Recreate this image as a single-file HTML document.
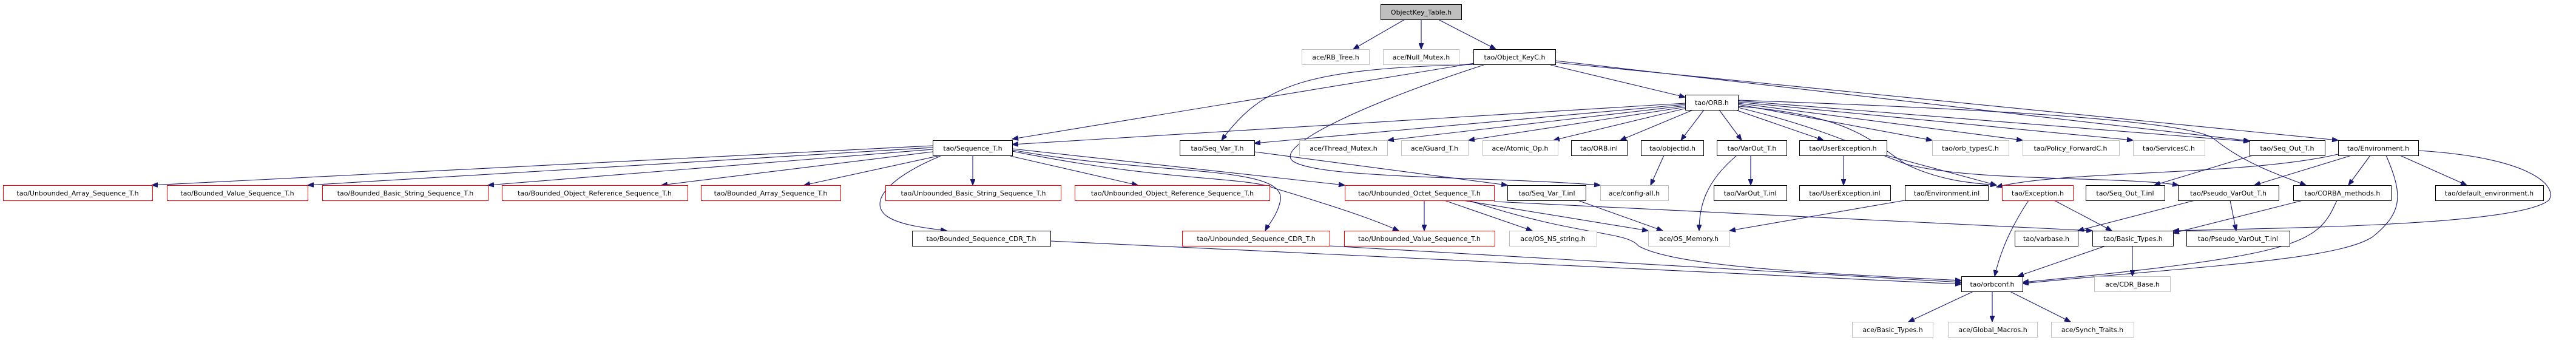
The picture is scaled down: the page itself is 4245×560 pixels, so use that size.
<!DOCTYPE html>
<html><head><meta charset="utf-8"><style>
html,body{margin:0;padding:0;background:#fff;}
svg{display:block;}
text{font-family:"DejaVu Sans","Liberation Sans",sans-serif;font-size:11px;fill:#000;}
.e{fill:none;stroke:#191970;stroke-width:1.1;marker-end:url(#a);}
.b{fill:#fff;stroke:#000;stroke-width:1;}
.g{fill:#fff;stroke:#bfbfbf;stroke-width:1;}
.r{fill:#fff;stroke:#ff0000;stroke-width:1;}
</style></head><body>
<svg width="4245" height="560" viewBox="0 0 4245 560" xmlns="http://www.w3.org/2000/svg">
<defs><marker id="a" markerWidth="11" markerHeight="8" refX="10" refY="4" orient="auto" markerUnits="userSpaceOnUse"><path d="M0,0 L10,4 L0,8 z" fill="#191970" stroke="#191970"/></marker></defs>
<g>
<path class="e" d="M2315,32 L2230,81"/>
<path class="e" d="M2342,32 L2342,81"/>
<path class="e" d="M2370,32 L2465,81"/>
<path class="e" d="M2430,104 L1668,229"/>
<path class="e" d="M2440,106 C2150,112 2080,140 2013,231"/>
<path class="e" d="M2445,107 C2250,170 2100,240 2130,265 C2170,295 2450,290 2637,305"/>
<path class="e" d="M2555,107 L2777,160"/>
<path class="e" d="M2563,100 L3707,232"/>
<path class="e" d="M2563,103 L3853,231"/>
<path class="e" d="M2777,170 L1668,238"/>
<path class="e" d="M2777,172 L2067,236"/>
<path class="e" d="M2778,174 L2287,231"/>
<path class="e" d="M2779,176 L2420,231"/>
<path class="e" d="M2780,178 L2560,231"/>
<path class="e" d="M2790,181 L2670,231"/>
<path class="e" d="M2808,181 L2770,231"/>
<path class="e" d="M2833,181 L2870,231"/>
<path class="e" d="M2860,181 L3005,231"/>
<path class="e" d="M2864,172 L3184,231"/>
<path class="e" d="M2864,170 L3333,231"/>
<path class="e" d="M2864,168 L3515,231"/>
<path class="e" d="M2864,166 L3707,233"/>
<path class="e" d="M2864,175 C3050,190 3080,230 3140,270 C3200,300 3260,302 3290,305"/>
<path class="e" d="M2864,177 C3000,210 3060,240 3140,270 C3250,300 3500,290 3590,305"/>
<path class="e" d="M2864,165 C3300,180 3620,200 3650,230 C3700,270 3760,290 3800,305"/>
<path class="e" d="M1537,240 L250,305"/>
<path class="e" d="M1537,243 L507,305"/>
<path class="e" d="M1537,246 L804,305"/>
<path class="e" d="M1537,250 L1090,305"/>
<path class="e" d="M1550,256 L1325,305"/>
<path class="e" d="M1603,257 L1603,305"/>
<path class="e" d="M1665,257 L1875,305"/>
<path class="e" d="M1668,245 L2216,305"/>
<path class="e" d="M1550,257 C1470,290 1430,330 1460,355 C1480,370 1520,375 1560,380"/>
<path class="e" d="M1668,247 C1900,290 2120,270 2110,330 C2105,355 2090,370 2085,380"/>
<path class="e" d="M1668,249 C1920,300 2050,290 2100,310 C2200,340 2260,360 2305,380"/>
<path class="e" d="M2067,250 L2484,305"/>
<path class="e" d="M1731,397 L3232,468"/>
<path class="e" d="M2191,405 L3232,465"/>
<path class="e" d="M2347,330 L2347,380"/>
<path class="e" d="M2380,330 L2525,380"/>
<path class="e" d="M2410,330 L2716,380"/>
<path class="e" d="M2420,330 C2600,390 2680,380 2700,405 C2760,440 3000,450 3232,462"/>
<path class="e" d="M2462,332 L3448,380"/>
<path class="e" d="M2600,330 L2740,380"/>
<path class="e" d="M2862,256 C2810,300 2800,340 2800,380"/>
<path class="e" d="M2742,256 L2720,305"/>
<path class="e" d="M2885,256 L2885,305"/>
<path class="e" d="M3038,256 L3038,305"/>
<path class="e" d="M3139,330 L2850,380"/>
<path class="e" d="M3109,256 L3290,305"/>
<path class="e" d="M3343,330 C3310,380 3295,420 3287,455"/>
<path class="e" d="M3385,330 L3480,380"/>
<path class="e" d="M3712,256 L3550,305"/>
<path class="e" d="M3853,254 C3700,290 3400,280 3290,308"/>
<path class="e" d="M3875,256 L3715,305"/>
<path class="e" d="M3906,256 L3870,305"/>
<path class="e" d="M3955,256 L4065,305"/>
<path class="e" d="M3932,256 C3960,320 3960,350 3910,390 C3850,430 3600,440 3333,467"/>
<path class="e" d="M3985,248 C4180,260 4215,310 4200,330 C4150,370 3800,375 3581,380"/>
<path class="e" d="M3617,330 L3424,380"/>
<path class="e" d="M3675,330 L3685,380"/>
<path class="e" d="M3795,330 L3581,384"/>
<path class="e" d="M3851,330 C3820,400 3800,420 3333,465"/>
<path class="e" d="M3470,405 L3325,455"/>
<path class="e" d="M3514,405 L3514,455"/>
<path class="e" d="M3252,480 L3145,530"/>
<path class="e" d="M3283,480 L3283,530"/>
<path class="e" d="M3312,480 L3412,530"/>
</g>
<g>
<rect x="2275.5" y="7.5" width="133" height="25" fill="#bfbfbf" stroke="#000"/><text x="2342" y="24" text-anchor="middle">ObjectKey_Table.h</text>
<rect class="g" x="2145.5" y="81.5" width="111" height="25"/><text x="2201" y="98" text-anchor="middle">ace/RB_Tree.h</text>
<rect class="g" x="2279.5" y="81.5" width="125" height="25"/><text x="2342" y="98" text-anchor="middle">ace/Null_Mutex.h</text>
<rect class="b" x="2428.5" y="81.5" width="135" height="25"/><text x="2496" y="98" text-anchor="middle">tao/Object_KeyC.h</text>
<rect class="b" x="2777.5" y="156.5" width="87" height="25"/><text x="2821" y="173" text-anchor="middle">tao/ORB.h</text>
<rect class="b" x="1537.5" y="231.5" width="131" height="25"/><text x="1603" y="248" text-anchor="middle">tao/Sequence_T.h</text>
<rect class="b" x="1944.5" y="231.5" width="123" height="25"/><text x="2006" y="248" text-anchor="middle">tao/Seq_Var_T.h</text>
<rect class="g" x="2141.5" y="231.5" width="145" height="25"/><text x="2214" y="248" text-anchor="middle">ace/Thread_Mutex.h</text>
<rect class="g" x="2309.5" y="231.5" width="110" height="25"/><text x="2364" y="248" text-anchor="middle">ace/Guard_T.h</text>
<rect class="g" x="2443.5" y="231.5" width="124" height="25"/><text x="2505" y="248" text-anchor="middle">ace/Atomic_Op.h</text>
<rect class="b" x="2589.5" y="231.5" width="92" height="25"/><text x="2635" y="248" text-anchor="middle">tao/ORB.inl</text>
<rect class="b" x="2704.5" y="231.5" width="103" height="25"/><text x="2756" y="248" text-anchor="middle">tao/objectid.h</text>
<rect class="b" x="2829.5" y="231.5" width="115" height="25"/><text x="2887" y="248" text-anchor="middle">tao/VarOut_T.h</text>
<rect class="b" x="2965.5" y="231.5" width="144" height="25"/><text x="3037" y="248" text-anchor="middle">tao/UserException.h</text>
<rect class="g" x="3184.5" y="231.5" width="126" height="25"/><text x="3247" y="248" text-anchor="middle">tao/orb_typesC.h</text>
<rect class="g" x="3333.5" y="231.5" width="159" height="25"/><text x="3412" y="248" text-anchor="middle">tao/Policy_ForwardC.h</text>
<rect class="g" x="3515.5" y="231.5" width="118" height="25"/><text x="3574" y="248" text-anchor="middle">tao/ServicesC.h</text>
<rect class="b" x="3707.5" y="231.5" width="124" height="25"/><text x="3769" y="248" text-anchor="middle">tao/Seq_Out_T.h</text>
<rect class="b" x="3853.5" y="231.5" width="132" height="25"/><text x="3919" y="248" text-anchor="middle">tao/Environment.h</text>

<rect class="r" x="5.5" y="305.5" width="246" height="25"/><text x="128" y="322" text-anchor="middle">tao/Unbounded_Array_Sequence_T.h</text>
<rect class="r" x="275.5" y="305.5" width="232" height="25"/><text x="391" y="322" text-anchor="middle">tao/Bounded_Value_Sequence_T.h</text>
<rect class="r" x="531.5" y="305.5" width="273" height="25"/><text x="668" y="322" text-anchor="middle">tao/Bounded_Basic_String_Sequence_T.h</text>
<rect class="r" x="827.5" y="305.5" width="306" height="25"/><text x="980" y="322" text-anchor="middle">tao/Bounded_Object_Reference_Sequence_T.h</text>
<rect class="r" x="1155.5" y="305.5" width="230" height="25"/><text x="1270" y="322" text-anchor="middle">tao/Bounded_Array_Sequence_T.h</text>
<rect class="r" x="1459.5" y="305.5" width="289" height="25"/><text x="1604" y="322" text-anchor="middle">tao/Unbounded_Basic_String_Sequence_T.h</text>
<rect class="r" x="1771.5" y="305.5" width="321" height="25"/><text x="1932" y="322" text-anchor="middle">tao/Unbounded_Object_Reference_Sequence_T.h</text>
<rect class="r" x="2216.5" y="305.5" width="246" height="25"/><text x="2339" y="322" text-anchor="middle">tao/Unbounded_Octet_Sequence_T.h</text>
<rect class="b" x="2484.5" y="305.5" width="129" height="25"/><text x="2549" y="322" text-anchor="middle">tao/Seq_Var_T.inl</text>
<rect class="g" x="2637.5" y="305.5" width="112" height="25"/><text x="2693" y="322" text-anchor="middle">ace/config-all.h</text>
<rect class="b" x="2824.5" y="305.5" width="120" height="25"/><text x="2884" y="322" text-anchor="middle">tao/VarOut_T.inl</text>
<rect class="b" x="2965.5" y="305.5" width="150" height="25"/><text x="3040" y="322" text-anchor="middle">tao/UserException.inl</text>
<rect class="b" x="3139.5" y="305.5" width="137" height="25"/><text x="3208" y="322" text-anchor="middle">tao/Environment.inl</text>
<rect class="r" x="3299.5" y="305.5" width="117" height="25"/><text x="3358" y="322" text-anchor="middle">tao/Exception.h</text>
<rect class="b" x="3437.5" y="305.5" width="130" height="25"/><text x="3502" y="322" text-anchor="middle">tao/Seq_Out_T.inl</text>
<rect class="b" x="3589.5" y="305.5" width="166" height="25"/><text x="3672" y="322" text-anchor="middle">tao/Pseudo_VarOut_T.h</text>
<rect class="b" x="3779.5" y="305.5" width="161" height="25"/><text x="3860" y="322" text-anchor="middle">tao/CORBA_methods.h</text>
<rect class="b" x="4013.5" y="305.5" width="178" height="25"/><text x="4102" y="322" text-anchor="middle">tao/default_environment.h</text>

<rect class="b" x="1503.5" y="380.5" width="228" height="25"/><text x="1617" y="397" text-anchor="middle">tao/Bounded_Sequence_CDR_T.h</text>
<rect class="r" x="1948.5" y="380.5" width="243" height="25"/><text x="2070" y="397" text-anchor="middle">tao/Unbounded_Sequence_CDR_T.h</text>
<rect class="r" x="2215.5" y="380.5" width="248" height="25"/><text x="2339" y="397" text-anchor="middle">tao/Unbounded_Value_Sequence_T.h</text>
<rect class="g" x="2487.5" y="380.5" width="144" height="25"/><text x="2559" y="397" text-anchor="middle">ace/OS_NS_string.h</text>
<rect class="g" x="2716.5" y="380.5" width="134" height="25"/><text x="2783" y="397" text-anchor="middle">ace/OS_Memory.h</text>
<rect class="b" x="3320.5" y="380.5" width="104" height="25"/><text x="3372" y="397" text-anchor="middle">tao/varbase.h</text>
<rect class="b" x="3448.5" y="380.5" width="133" height="25"/><text x="3515" y="397" text-anchor="middle">tao/Basic_Types.h</text>
<rect class="b" x="3603.5" y="380.5" width="170" height="25"/><text x="3688" y="397" text-anchor="middle">tao/Pseudo_VarOut_T.inl</text>

<rect class="b" x="3232.5" y="455.5" width="101" height="25"/><text x="3283" y="472" text-anchor="middle">tao/orbconf.h</text>
<rect class="g" x="3451.5" y="455.5" width="125" height="25"/><text x="3514" y="472" text-anchor="middle">ace/CDR_Base.h</text>

<rect class="g" x="3052.5" y="530.5" width="133" height="25"/><text x="3119" y="547" text-anchor="middle">ace/Basic_Types.h</text>
<rect class="g" x="3210.5" y="530.5" width="147" height="25"/><text x="3284" y="547" text-anchor="middle">ace/Global_Macros.h</text>
<rect class="g" x="3380.5" y="530.5" width="136" height="25"/><text x="3448" y="547" text-anchor="middle">ace/Synch_Traits.h</text>
</g>
</svg>
</body></html>
